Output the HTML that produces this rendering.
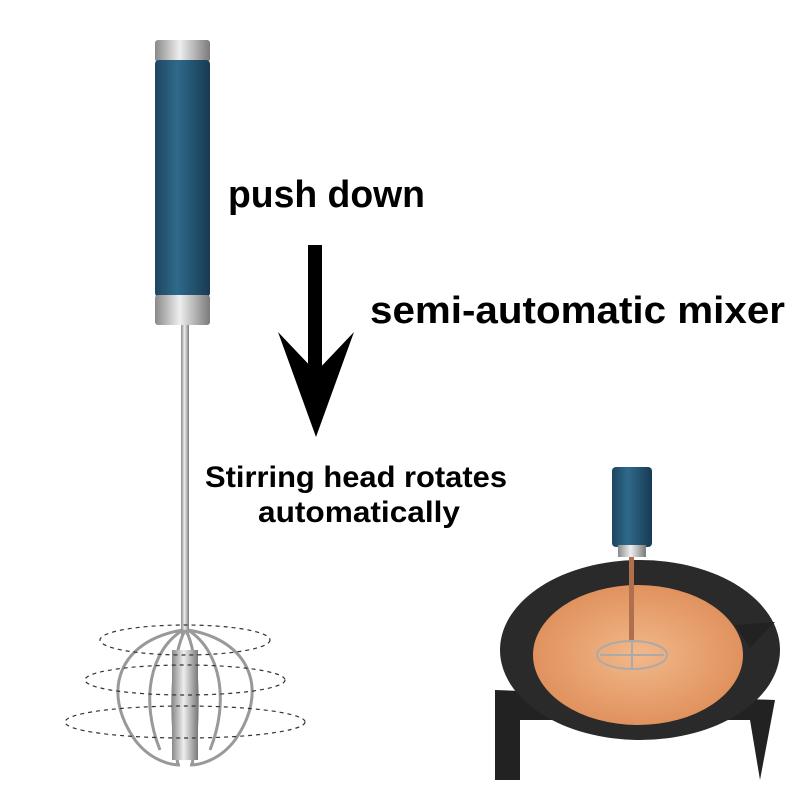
<!DOCTYPE html>
<html><head><style>
body{margin:0;background:#fff;width:800px;height:800px;overflow:hidden}
svg{display:block}
text{font-family:"Liberation Sans",sans-serif;font-weight:bold;fill:#000}
</style></head><body>
<svg width="800" height="800" viewBox="0 0 800 800">
<defs>
<linearGradient id="blue" x1="0" x2="1"><stop offset="0" stop-color="#1e4560"/><stop offset=".4" stop-color="#2f6a8c"/><stop offset="1" stop-color="#173a52"/></linearGradient>
<linearGradient id="silver" x1="0" x2="1"><stop offset="0" stop-color="#8a8a8a"/><stop offset=".45" stop-color="#eeeeee"/><stop offset="1" stop-color="#7a7a7a"/></linearGradient>
<radialGradient id="cream" cx=".5" cy=".5" r=".5"><stop offset="0" stop-color="#f2b88a"/><stop offset="1" stop-color="#e0925e"/></radialGradient>
</defs>
<rect x="155" y="40" width="55" height="22" rx="3" fill="url(#silver)"/>
<rect x="155" y="60" width="55" height="237" rx="4" fill="url(#blue)"/>
<rect x="155" y="295" width="55" height="30" rx="3" fill="url(#silver)"/>
<rect x="181" y="325" width="8" height="310" fill="url(#silver)"/>
<g fill="none" stroke="#999" stroke-width="3">
<path d="M183 630 C120 640 100 690 135 740 C150 760 170 765 180 765"/>
<path d="M188 630 C250 640 270 690 235 740 C220 760 200 765 190 765"/>
<path d="M183 630 C150 650 140 700 160 750"/>
<path d="M188 630 C220 650 230 700 210 750"/>
<path d="M185 630 C170 660 170 720 178 765"/>
<path d="M186 630 C200 660 200 720 192 765"/>
</g>
<rect x="172" y="650" width="26" height="110" fill="url(#silver)"/>
<g fill="none" stroke="#333" stroke-width="1.2" stroke-dasharray="4 4">
<ellipse cx="185" cy="640" rx="85" ry="15"/>
<ellipse cx="185" cy="680" rx="100" ry="15"/>
<ellipse cx="185" cy="722" rx="120" ry="16"/>
</g>
<rect x="308" y="245" width="14" height="140" fill="#000"/>
<path d="M278 332 L316 372 L354 332 L316 437 Z" fill="#000"/>
<text x="228" y="207" font-size="38" textLength="197" lengthAdjust="spacingAndGlyphs">push down</text>
<text x="370" y="323" font-size="38" textLength="415" lengthAdjust="spacingAndGlyphs">semi-automatic mixer</text>
<text x="205" y="487" font-size="30" textLength="302" lengthAdjust="spacingAndGlyphs">Stirring head rotates</text>
<text x="258" y="522" font-size="30" textLength="202" lengthAdjust="spacingAndGlyphs">automatically</text>
<path d="M495 690 L495 780 L520 780 L520 720 L750 720 L760 780 L775 700 Z" fill="#222"/>
<ellipse cx="640" cy="650" rx="140" ry="90" fill="#2a2a2a"/>
<path d="M735 625 L775 622 L750 648 Z" fill="#222"/>
<ellipse cx="638" cy="655" rx="105" ry="70" fill="url(#cream)"/>
<rect x="612" y="467" width="40" height="80" rx="4" fill="url(#blue)"/>
<rect x="618" y="545" width="28" height="12" fill="url(#silver)"/>
<rect x="629" y="557" width="5" height="85" fill="#b07050"/>
<g fill="none" stroke="#aaa" stroke-width="2">
<ellipse cx="632" cy="655" rx="35" ry="14"/>
<path d="M600 655 L664 655 M632 640 L632 670"/>
</g>
</svg>
</body></html>
